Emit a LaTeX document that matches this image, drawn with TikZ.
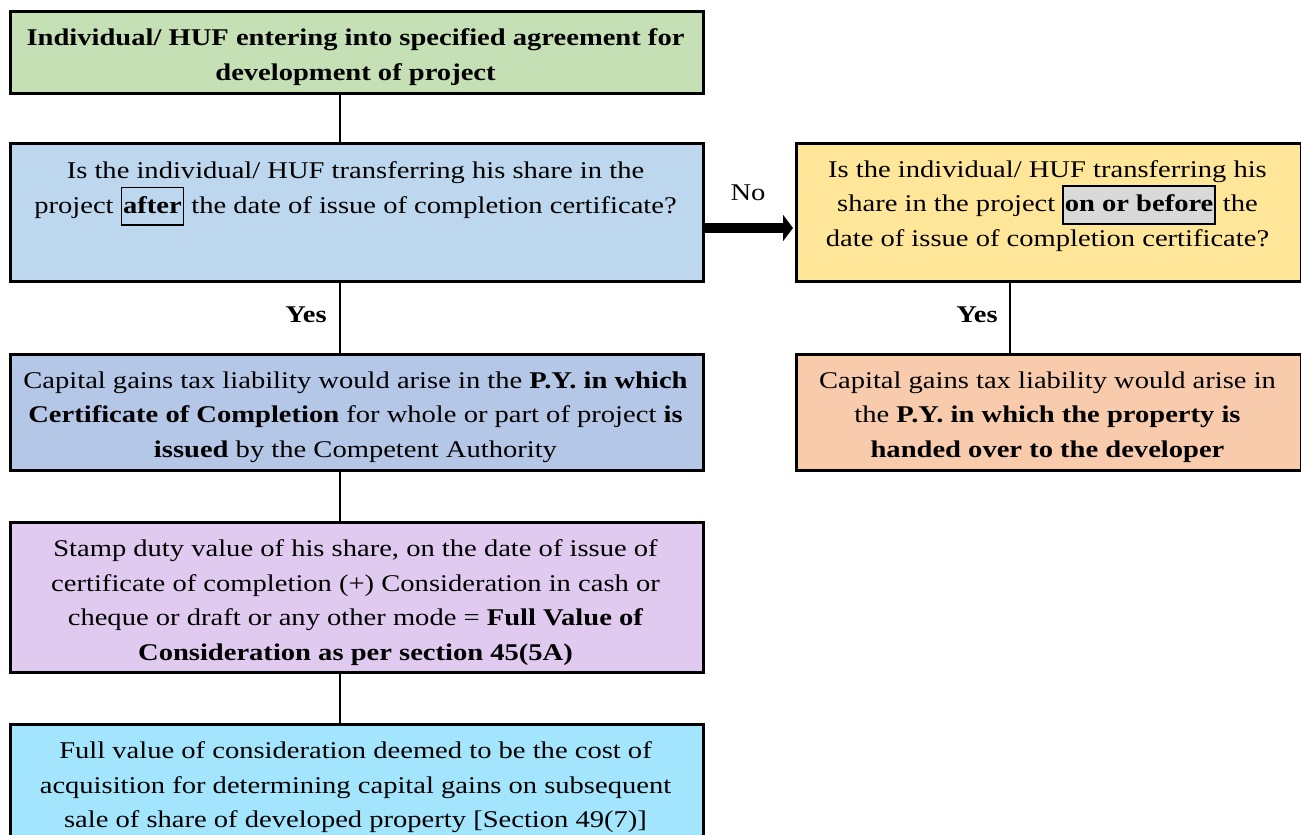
\documentclass[tikz,border=0pt]{standalone}
\usepackage{fontspec}
\setmainfont{Liberation Serif}[FakeStretch=1.19]
\usetikzlibrary{arrows.meta}
\definecolor{cgreen}{HTML}{C5E0B4}
\definecolor{cblue}{HTML}{BDD7EE}
\definecolor{cyellow}{HTML}{FFE699}
\definecolor{cdblue}{HTML}{B4C7E7}
\definecolor{corange}{HTML}{F8CBAD}
\definecolor{clav}{HTML}{E1CAF0}
\definecolor{ccyan}{HTML}{A3E5FD}
\definecolor{cgrey}{HTML}{D9D9D9}
\setlength{\fboxsep}{0.4pt}
\setlength{\fboxrule}{0.8pt}
\begin{document}
\begin{tikzpicture}[x=0.5pt,y=-0.5pt,
  box/.style={draw=black, line width=1.4pt, anchor=north west, inner sep=0pt},
  txt/.style={align=center, font=\fontsize{12}{17.25}\selectfont, inner sep=0pt},
  conn/.style={line width=0.9pt},
  lbl/.style={font=\fontsize{12}{14}\selectfont, inner sep=0pt}]
\useasboundingbox (0,0) rectangle (1301,835);
\clip (0,0) rectangle (1301,835);
% boxes
\node[box, fill=cgreen,  minimum width=346.5pt, minimum height=41pt]   (b1) at (9,10) {};
\node[box, fill=cblue,   minimum width=346.5pt, minimum height=69pt]   (b2) at (9,142) {};
\node[box, fill=cyellow, minimum width=252.5pt, minimum height=69pt]   (b3) at (795,142) {};
\node[box, fill=cdblue,  minimum width=346.5pt, minimum height=58pt]   (b4) at (9,353) {};
\node[box, fill=corange, minimum width=252.5pt, minimum height=58pt]   (b5) at (795,353) {};
\node[box, fill=clav,    minimum width=346.5pt, minimum height=75pt]   (b6) at (9,521) {};
\node[box, fill=ccyan,   minimum width=346.5pt, minimum height=72pt]   (b7) at (9,723) {};
% texts
\node[txt] (t1) at (355.5,57) {\bfseries Individual/ HUF entering into specified agreement for\\\bfseries development of project};
\node[txt] (t2) at (355.5,194) {Is the individual/ HUF transferring his share in the\\project \fbox{\strut\textbf{after}} the date of issue of completion certificate?};
\node[txt] (t3) at (1047.5,206) {Is the individual/ HUF transferring his\\share in the project \fcolorbox{black}{cgrey}{\strut\textbf{on or before}} the\\date of issue of completion certificate?};
\node[txt] (t4) at (355.5,417) {Capital gains tax liability would arise in the \textbf{P.Y. in which}\\\textbf{Certificate of Completion} for whole or part of project \textbf{is}\\\textbf{issued} by the Competent Authority};
\node[txt] (t5) at (1047.5,417) {Capital gains tax liability would arise in\\the \textbf{P.Y. in which the property is}\\\textbf{handed over to the developer}};
\node[txt] (t6) at (355.5,602.5) {Stamp duty value of his share, on the date of issue of\\certificate of completion (+) Consideration in cash or\\cheque or draft or any other mode = \textbf{Full Value of}\\\textbf{Consideration as per section 45(5A)}};
\node[txt] (t7) at (355.5,787.5) {Full value of consideration deemed to be the cost of\\acquisition for determining capital gains on subsequent\\sale of share of developed property [Section 49(7)]};
% connectors
\coordinate (cx) at (340,0);
\coordinate (rx) at (1010,0);
\coordinate (ay) at (0,228);
\coordinate (ae) at (793,228);
\draw[conn] (b1.south -| cx) -- (b2.north -| cx);
\draw[conn] (b2.south -| cx) -- (b4.north -| cx);
\draw[conn] (b3.south -| rx) -- (b5.north -| rx);
\draw[conn] (b4.south -| cx) -- (b6.north -| cx);
\draw[conn] (b6.south -| cx) -- (b7.north -| cx);
\draw[line width=5pt, -{Triangle[length=5pt,width=13pt]}] (b2.east |- ay) -- (ae);
% labels
\node[lbl] (no) at (748,193) {No};
\node[lbl, font=\fontsize{12}{14}\selectfont\bfseries] (y1) at (306,315) {Yes};
\node[lbl, font=\fontsize{12}{14}\selectfont\bfseries] (y2) at (977,315) {Yes};
\end{tikzpicture}
\end{document}
